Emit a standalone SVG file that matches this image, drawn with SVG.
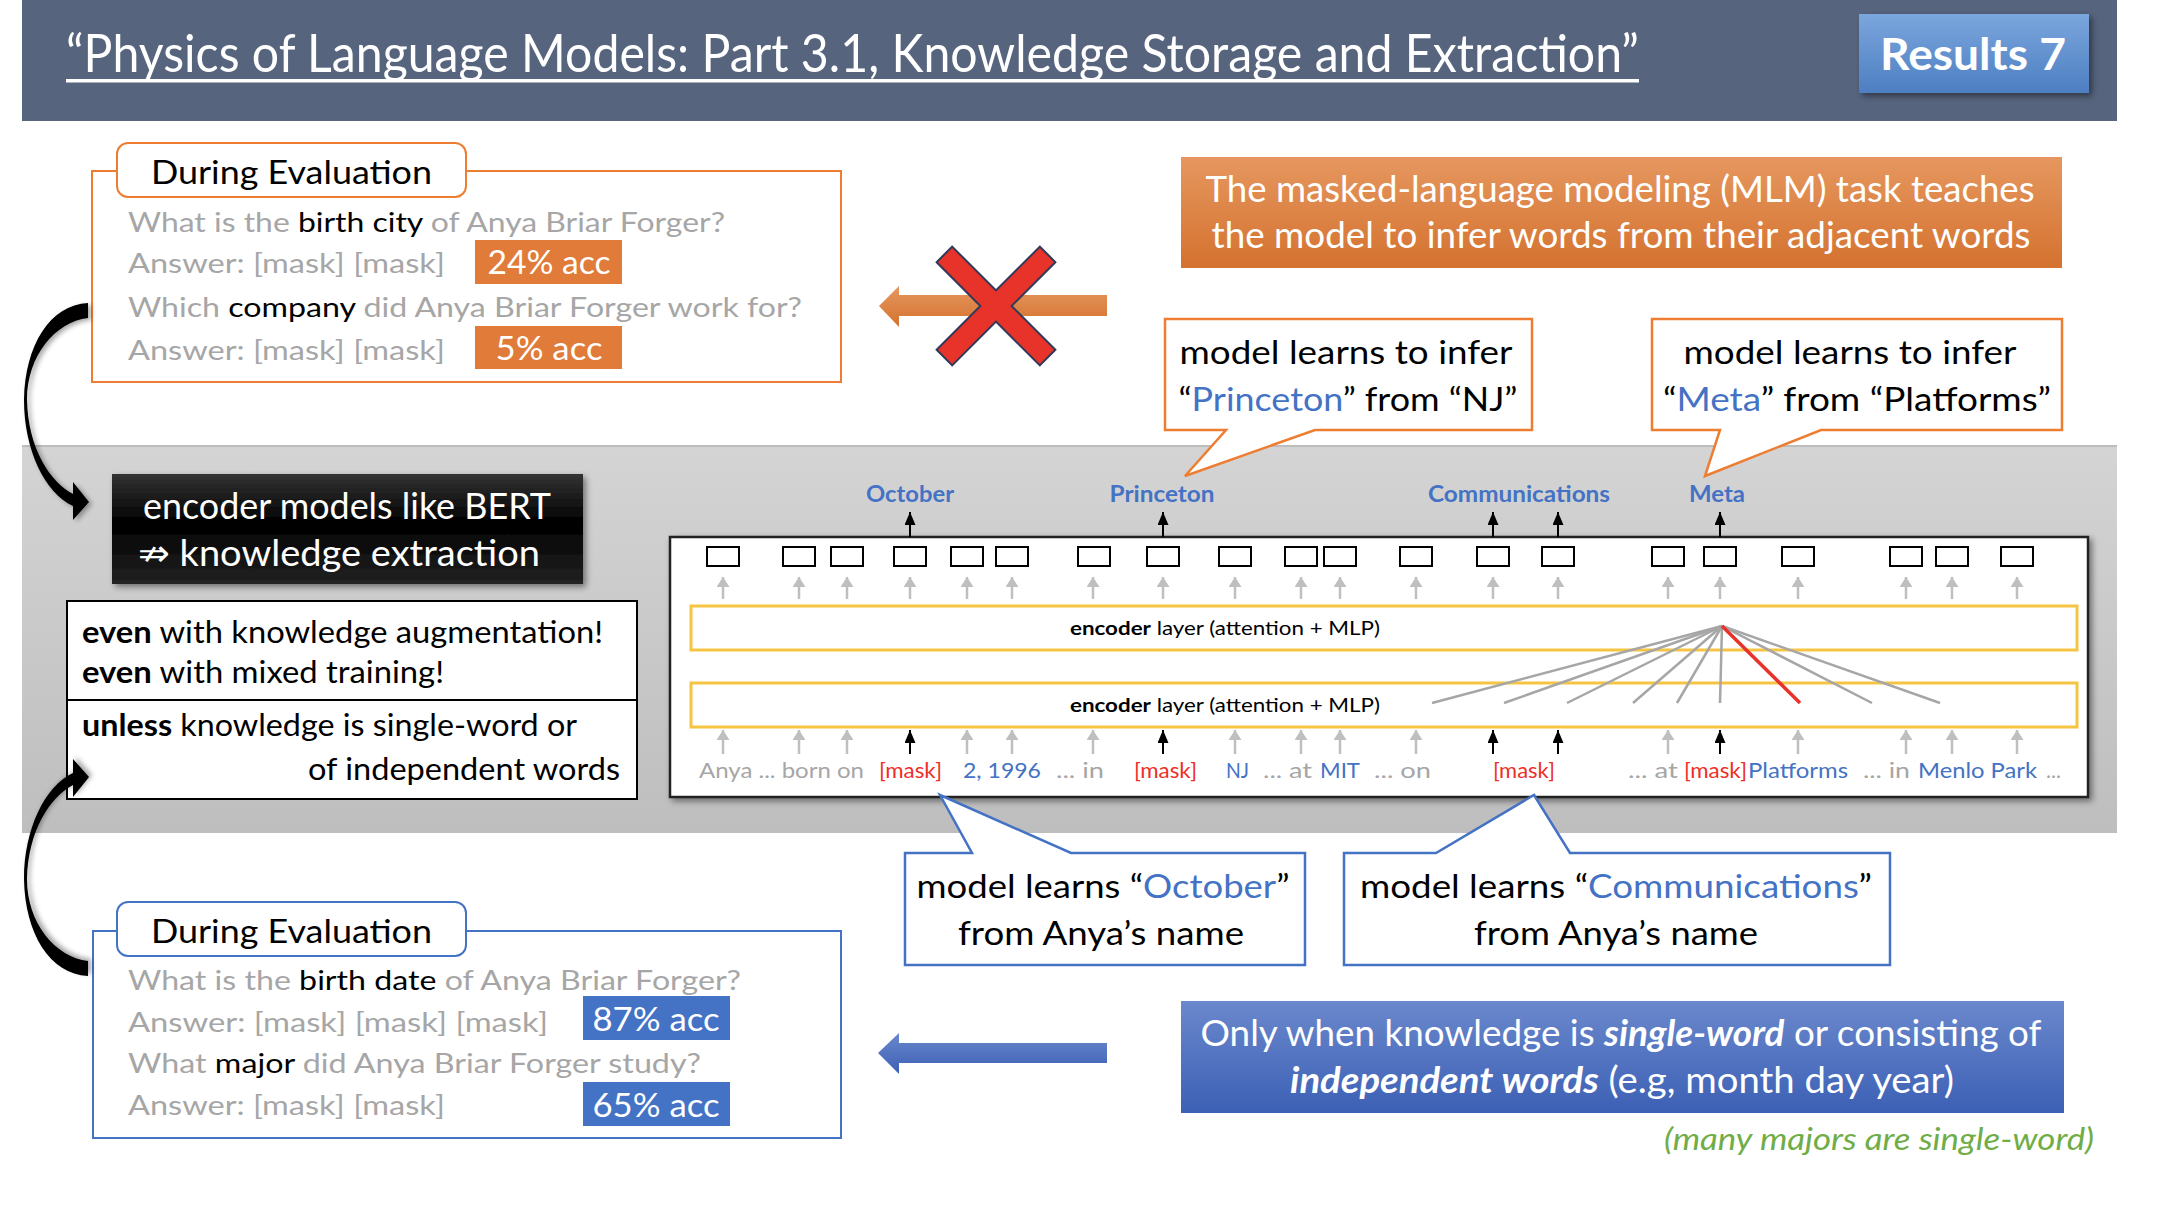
<svg xmlns="http://www.w3.org/2000/svg" width="2160" height="1222" viewBox="0 0 2160 1222">
<defs>
<style>
text{font-family:Lato,"Liberation Sans","DejaVu Sans",sans-serif}
.g{fill:#a6a6a6}
.k{fill:#000}
.b{fill:#4472c4}
.r{fill:#ee2f27}
.w{fill:#fff}
.q{font-size:27px}
.acc{font-size:33px;fill:#fff}
.call{font-size:33px;fill:#000}
.big{font-size:37px;fill:#fff}
.tok{font-size:21px}
.enc{font-size:19px;fill:#000}
.lab{font-size:22px;font-weight:bold;fill:#4472c4}
.box{fill:#fff;stroke:#222;stroke-width:2.5}
.tb{fill:#fff;stroke:#000;stroke-width:2}
.layer{fill:#fff;stroke:#f6c443;stroke-width:3}
.ga{stroke:#bfbfbf;stroke-width:2.5;marker-end:url(#mg)}
.ka{stroke:#000;stroke-width:2;marker-end:url(#mk)}
.att{stroke:#a6a6a6;stroke-width:2.5}
</style>
<marker id="mg" markerUnits="userSpaceOnUse" viewBox="0 0 10 13" refX="10" refY="6.5" markerWidth="10" markerHeight="13" orient="auto"><path d="M0,0 L10,6.5 L0,13 Z" fill="#bfbfbf"/></marker>
<marker id="mk" markerUnits="userSpaceOnUse" viewBox="0 0 13 11" refX="13" refY="5.5" markerWidth="13" markerHeight="11" orient="auto"><path d="M0,0 L13,5.5 L0,11 Z" fill="#000"/></marker>
<linearGradient id="gRes" x1="0" y1="0" x2="0" y2="1"><stop offset="0" stop-color="#7ba6dd"/><stop offset="1" stop-color="#4d7fc2"/></linearGradient>
<linearGradient id="gBand" x1="0" y1="0" x2="0" y2="1"><stop offset="0" stop-color="#d4d4d4"/><stop offset="1" stop-color="#bebebe"/></linearGradient>
<linearGradient id="gOr" x1="0" y1="0" x2="0" y2="1"><stop offset="0" stop-color="#e6975f"/><stop offset="1" stop-color="#d4722f"/></linearGradient>
<linearGradient id="gBl" x1="0" y1="0" x2="0" y2="1"><stop offset="0" stop-color="#6a88cc"/><stop offset="1" stop-color="#3c60b5"/></linearGradient>
<linearGradient id="gBlk" x1="0" y1="0" x2="0" y2="1"><stop offset="0" stop-color="#333"/><stop offset="0.45" stop-color="#000"/><stop offset="1" stop-color="#222"/></linearGradient>
<filter id="sh" x="-10%" y="-10%" width="130%" height="140%"><feDropShadow dx="3" dy="3" stdDeviation="3" flood-color="#000" flood-opacity="0.45"/></filter>
<filter id="shs" x="-30%" y="-10%" width="160%" height="120%"><feDropShadow dx="3" dy="2" stdDeviation="2.5" flood-color="#000" flood-opacity="0.35"/></filter>
</defs>

<rect width="2160" height="1222" fill="#fff"/>

<!-- title bar -->
<g id="header">
<rect x="22" y="0" width="2095" height="121" fill="#56647e"/>
<text x="66" y="72" font-size="52" class="w" textLength="1573" lengthAdjust="spacingAndGlyphs">“Physics of Language Models: Part 3.1, Knowledge Storage and Extraction”</text>
<rect x="66" y="79" width="1573" height="3.5" fill="#fff"/>
</g>
<g id="results-badge">
<rect x="1859" y="14" width="230" height="79" fill="url(#gRes)" filter="url(#sh)"/>
<text x="1973" y="70" font-size="43" font-weight="bold" class="w" text-anchor="middle" textLength="186" lengthAdjust="spacingAndGlyphs">Results 7</text>
</g>

<!-- grey band behind the encoder part -->
<rect x="22" y="445" width="2095" height="388" fill="url(#gBand)"/>
<line x1="22" y1="446" x2="2117" y2="446" stroke="#bdbdbd" stroke-width="2"/>

<!-- upper evaluation box -->
<g id="eval-top">
<rect x="92" y="171" width="749" height="211" fill="#fff" stroke="#ed7d31" stroke-width="2"/>
<rect x="117" y="143" width="349" height="54" rx="11" fill="#fff" stroke="#ed7d31" stroke-width="2"/>
<text x="291.5" y="184" font-size="33" class="k" text-anchor="middle" textLength="281" lengthAdjust="spacingAndGlyphs">During Evaluation</text>
<text x="128" y="232" class="q g" textLength="597" lengthAdjust="spacingAndGlyphs">What is the <tspan class="k">birth city</tspan> of Anya Briar Forger?</text>
<text x="128" y="273" class="q g" textLength="317" lengthAdjust="spacingAndGlyphs">Answer: [mask] [mask]</text>
<text x="128" y="317" class="q g" textLength="674" lengthAdjust="spacingAndGlyphs">Which <tspan class="k">company</tspan> did Anya Briar Forger work for?</text>
<text x="128" y="360" class="q g" textLength="317" lengthAdjust="spacingAndGlyphs">Answer: [mask] [mask]</text>
<rect x="475" y="240" width="147" height="44" fill="#e07b39"/>
<text x="549" y="274" class="acc" text-anchor="middle" textLength="123" lengthAdjust="spacingAndGlyphs">24% acc</text>
<rect x="475" y="326" width="147" height="43" fill="#e07b39"/>
<text x="549" y="360" class="acc" text-anchor="middle" textLength="107" lengthAdjust="spacingAndGlyphs">5% acc</text>
</g>

<!-- MLM statement -->
<g id="mlm-note">
<rect x="1181" y="157" width="881" height="111" fill="url(#gOr)"/>
<text x="1620" y="202" class="big" text-anchor="middle" textLength="829" lengthAdjust="spacingAndGlyphs">The masked-language modeling (MLM) task teaches</text>
<text x="1621" y="248" class="big" text-anchor="middle" textLength="819" lengthAdjust="spacingAndGlyphs">the model to infer words from their adjacent words</text>
</g>

<!-- callouts above the encoder -->
<g id="callout-princeton">
<path d="M1165,319 H1532 V430 H1315 L1185,476 L1226,430 H1165 Z" fill="#fff" stroke="#ed7d31" stroke-width="2.5" stroke-linejoin="miter"/>
<text x="1346" y="364" class="call" text-anchor="middle" textLength="333" lengthAdjust="spacingAndGlyphs">model learns to infer</text>
<text x="1348" y="411" class="call" text-anchor="middle" textLength="339" lengthAdjust="spacingAndGlyphs">“<tspan class="b">Princeton</tspan>” from “NJ”</text>
</g>
<g id="callout-meta">
<path d="M1652,319 H2062 V430 H1821 L1705,476 L1720,430 H1652 Z" fill="#fff" stroke="#ed7d31" stroke-width="2.5"/>
<text x="1850" y="364" class="call" text-anchor="middle" textLength="333" lengthAdjust="spacingAndGlyphs">model learns to infer</text>
<text x="1857" y="411" class="call" text-anchor="middle" textLength="388" lengthAdjust="spacingAndGlyphs">“<tspan class="b">Meta</tspan>” from “Platforms”</text>
</g>

<!-- left-hand summary -->
<g id="bert-claim">
<rect x="112" y="474" width="471" height="110" fill="url(#gBlk)" filter="url(#sh)"/>
<text x="347" y="519" class="big" text-anchor="middle" textLength="408" lengthAdjust="spacingAndGlyphs">encoder models like BERT</text>
<text x="339" y="566" class="big" text-anchor="middle" textLength="402" lengthAdjust="spacingAndGlyphs">⇏ knowledge extraction</text>
</g>
<g id="caveats">
<rect x="67" y="601" width="570" height="198" fill="#fff" stroke="#000" stroke-width="2"/>
<line x1="67" y1="700" x2="637" y2="700" stroke="#000" stroke-width="2"/>
<text x="82" y="643" font-size="31" class="k" textLength="521" lengthAdjust="spacingAndGlyphs"><tspan font-weight="bold">even</tspan> with knowledge augmentation!</text>
<text x="82" y="683" font-size="31" class="k" textLength="362" lengthAdjust="spacingAndGlyphs"><tspan font-weight="bold">even</tspan> with mixed training!</text>
<text x="82" y="736" font-size="31" class="k" textLength="495" lengthAdjust="spacingAndGlyphs"><tspan font-weight="bold">unless</tspan> knowledge is single-word or</text>
<text x="620" y="780" font-size="31" class="k" text-anchor="end" textLength="312" lengthAdjust="spacingAndGlyphs">of independent words</text>
</g>

<!-- encoder stack -->
<g id="encoder">
<rect x="670" y="537" width="1418" height="260" class="box" filter="url(#sh)"/>
<rect x="691" y="606" width="1386" height="44" class="layer"/>
<rect x="691" y="683" width="1386" height="44" class="layer"/>
<text x="1225" y="635" class="enc" text-anchor="middle" textLength="310" lengthAdjust="spacingAndGlyphs"><tspan font-weight="bold">encoder</tspan> layer (attention + MLP)</text>
<text x="1225" y="712" class="enc" text-anchor="middle" textLength="310" lengthAdjust="spacingAndGlyphs"><tspan font-weight="bold">encoder</tspan> layer (attention + MLP)</text>
<g id="token-outputs">
<rect x="707" y="547" width="32" height="19" class="tb"/>
<rect x="783" y="547" width="32" height="19" class="tb"/>
<rect x="831" y="547" width="32" height="19" class="tb"/>
<rect x="894" y="547" width="32" height="19" class="tb"/>
<rect x="951" y="547" width="32" height="19" class="tb"/>
<rect x="996" y="547" width="32" height="19" class="tb"/>
<rect x="1078" y="547" width="32" height="19" class="tb"/>
<rect x="1147" y="547" width="32" height="19" class="tb"/>
<rect x="1219" y="547" width="32" height="19" class="tb"/>
<rect x="1285" y="547" width="32" height="19" class="tb"/>
<rect x="1324" y="547" width="32" height="19" class="tb"/>
<rect x="1400" y="547" width="32" height="19" class="tb"/>
<rect x="1477" y="547" width="32" height="19" class="tb"/>
<rect x="1542" y="547" width="32" height="19" class="tb"/>
<rect x="1652" y="547" width="32" height="19" class="tb"/>
<rect x="1704" y="547" width="32" height="19" class="tb"/>
<rect x="1782" y="547" width="32" height="19" class="tb"/>
<rect x="1890" y="547" width="32" height="19" class="tb"/>
<rect x="1936" y="547" width="32" height="19" class="tb"/>
<rect x="2001" y="547" width="32" height="19" class="tb"/>
</g>
<g id="predicted-words">
<text x="910" y="502" class="lab" text-anchor="middle" textLength="88" lengthAdjust="spacingAndGlyphs">October</text>
<text x="1162" y="502" class="lab" text-anchor="middle" textLength="105" lengthAdjust="spacingAndGlyphs">Princeton</text>
<text x="1519" y="502" class="lab" text-anchor="middle" textLength="182" lengthAdjust="spacingAndGlyphs">Communications</text>
<text x="1717" y="502" class="lab" text-anchor="middle" textLength="56" lengthAdjust="spacingAndGlyphs">Meta</text>
</g>
<g id="input-tokens" class="tok">
<text x="699" y="778" class="g" textLength="165" lengthAdjust="spacingAndGlyphs">Anya ... born on</text>
<text x="879" y="778" class="r" textLength="63" lengthAdjust="spacingAndGlyphs">[mask]</text>
<text x="963" y="778" class="b" textLength="78" lengthAdjust="spacingAndGlyphs">2, 1996</text>
<text x="1056" y="778" class="g" textLength="48" lengthAdjust="spacingAndGlyphs">... in</text>
<text x="1134" y="778" class="r" textLength="63" lengthAdjust="spacingAndGlyphs">[mask]</text>
<text x="1226" y="778" class="b" textLength="23" lengthAdjust="spacingAndGlyphs">NJ</text>
<text x="1263" y="778" class="g" textLength="49" lengthAdjust="spacingAndGlyphs">... at</text>
<text x="1320" y="778" class="b" textLength="40" lengthAdjust="spacingAndGlyphs">MIT</text>
<text x="1374" y="778" class="g" textLength="57" lengthAdjust="spacingAndGlyphs">... on</text>
<text x="1493" y="778" class="r" textLength="62" lengthAdjust="spacingAndGlyphs">[mask]</text>
<text x="1628" y="778" class="g" textLength="50" lengthAdjust="spacingAndGlyphs">... at</text>
<text x="1684" y="778" class="r" textLength="63" lengthAdjust="spacingAndGlyphs">[mask]</text>
<text x="1748" y="778" class="b" textLength="100" lengthAdjust="spacingAndGlyphs">Platforms</text>
<text x="1863" y="778" class="g" textLength="47" lengthAdjust="spacingAndGlyphs">... in</text>
<text x="1918" y="778" class="b" textLength="119" lengthAdjust="spacingAndGlyphs">Menlo Park</text>
<text x="2046" y="778" class="g" textLength="15" lengthAdjust="spacingAndGlyphs">...</text>
</g>
</g>

<!-- callouts below the encoder -->
<g id="callout-october">
<path d="M905,853 H972 L940,795 L1071,853 H1305 V965 H905 Z" fill="#fff" stroke="#4472c4" stroke-width="2.5"/>
<text x="1103" y="898" class="call" text-anchor="middle" textLength="373" lengthAdjust="spacingAndGlyphs">model learns “<tspan class="b">October</tspan>”</text>
<text x="1101" y="945" class="call" text-anchor="middle" textLength="286" lengthAdjust="spacingAndGlyphs">from Anya’s name</text>
</g>
<g id="callout-communications">
<path d="M1344,853 H1436 L1534,795 L1570,853 H1890 V965 H1344 Z" fill="#fff" stroke="#4472c4" stroke-width="2.5"/>
<text x="1616" y="898" class="call" text-anchor="middle" textLength="512" lengthAdjust="spacingAndGlyphs">model learns “<tspan class="b">Communications</tspan>”</text>
<text x="1616" y="945" class="call" text-anchor="middle" textLength="284" lengthAdjust="spacingAndGlyphs">from Anya’s name</text>
</g>

<!-- lower evaluation box -->
<g id="eval-bottom">
<rect x="93" y="931" width="748" height="207" fill="#fff" stroke="#4472c4" stroke-width="2"/>
<rect x="117" y="902" width="349" height="54" rx="11" fill="#fff" stroke="#4472c4" stroke-width="2"/>
<text x="291.5" y="943" font-size="33" class="k" text-anchor="middle" textLength="281" lengthAdjust="spacingAndGlyphs">During Evaluation</text>
<text x="128" y="990" class="q g" textLength="613" lengthAdjust="spacingAndGlyphs">What is the <tspan class="k">birth date</tspan> of Anya Briar Forger?</text>
<text x="128" y="1032" class="q g" textLength="420" lengthAdjust="spacingAndGlyphs">Answer: [mask] [mask] [mask]</text>
<text x="128" y="1073" class="q g" textLength="573" lengthAdjust="spacingAndGlyphs">What <tspan class="k">major</tspan> did Anya Briar Forger study?</text>
<text x="128" y="1115" class="q g" textLength="317" lengthAdjust="spacingAndGlyphs">Answer: [mask] [mask]</text>
<rect x="583" y="996" width="147" height="44" fill="#4472c4"/>
<text x="656" y="1031" class="acc" text-anchor="middle" textLength="127" lengthAdjust="spacingAndGlyphs">87% acc</text>
<rect x="583" y="1082" width="147" height="44" fill="#4472c4"/>
<text x="656" y="1117" class="acc" text-anchor="middle" textLength="127" lengthAdjust="spacingAndGlyphs">65% acc</text>
</g>

<!-- single-word statement -->
<g id="single-word-note">
<rect x="1181" y="1001" width="883" height="112" fill="url(#gBl)"/>
<text x="1621" y="1046" class="big" text-anchor="middle" textLength="841" lengthAdjust="spacingAndGlyphs">Only when knowledge is <tspan font-weight="bold" font-style="italic">single-word</tspan> or consisting of</text>
<text x="1622" y="1093" class="big" text-anchor="middle" textLength="664" lengthAdjust="spacingAndGlyphs"><tspan font-weight="bold" font-style="italic">independent words</tspan> (e.g, month day year)</text>
</g>
<text id="majors-note" x="2094" y="1150" font-size="30" font-style="italic" fill="#70ad47" text-anchor="end" textLength="430" lengthAdjust="spacingAndGlyphs">(many majors are single-word)</text>

<!-- connectors -->
<g id="connectors">
<!-- curved arrows on the left -->
<path d="M88,303 C50,305 25,345 24,400 C24,450 45,493 73,506 L73,520 L89,502 L73,482 L73,494 C50,482 28,448 27,400 C27,356 55,322 88,318 Z" fill="#000" filter="url(#shs)"/>
<path transform="matrix(1 0 0 -1 0 1279)" d="M88,303 C50,305 25,345 24,400 C24,450 45,493 73,506 L73,520 L89,502 L73,482 L73,494 C50,482 28,448 27,400 C27,356 55,322 88,318 Z" fill="#000" filter="url(#shs)"/>
<!-- crossed-out orange arrow -->
<path d="M1107,295 H899 V286 L879,306 L899,327 V316 H1107 Z" fill="url(#gOr)"/>
<g transform="translate(996,306)">
<rect x="-10" y="-72" width="20" height="144" transform="rotate(45)" fill="none" stroke="#2e3a59" stroke-width="4"/>
<rect x="-10" y="-72" width="20" height="144" transform="rotate(-45)" fill="none" stroke="#2e3a59" stroke-width="4"/>
<rect x="-10" y="-72" width="20" height="144" transform="rotate(45)" fill="#e8332a"/>
<rect x="-10" y="-72" width="20" height="144" transform="rotate(-45)" fill="#e8332a"/>
</g>
<!-- blue arrow -->
<path d="M1107,1043 H899 V1033 L878,1053 L899,1074 V1063 H1107 Z" fill="url(#gBl)"/>
<!-- arrows into the output slots -->
<g id="upper-arrows">
<line x1="723" y1="599" x2="723" y2="577" class="ga"/>
<line x1="799" y1="599" x2="799" y2="577" class="ga"/>
<line x1="847" y1="599" x2="847" y2="577" class="ga"/>
<line x1="910" y1="599" x2="910" y2="577" class="ga"/>
<line x1="967" y1="599" x2="967" y2="577" class="ga"/>
<line x1="1012" y1="599" x2="1012" y2="577" class="ga"/>
<line x1="1093" y1="599" x2="1093" y2="577" class="ga"/>
<line x1="1163" y1="599" x2="1163" y2="577" class="ga"/>
<line x1="1235" y1="599" x2="1235" y2="577" class="ga"/>
<line x1="1301" y1="599" x2="1301" y2="577" class="ga"/>
<line x1="1340" y1="599" x2="1340" y2="577" class="ga"/>
<line x1="1416" y1="599" x2="1416" y2="577" class="ga"/>
<line x1="1493" y1="599" x2="1493" y2="577" class="ga"/>
<line x1="1558" y1="599" x2="1558" y2="577" class="ga"/>
<line x1="1668" y1="599" x2="1668" y2="577" class="ga"/>
<line x1="1720" y1="599" x2="1720" y2="577" class="ga"/>
<line x1="1798" y1="599" x2="1798" y2="577" class="ga"/>
<line x1="1906" y1="599" x2="1906" y2="577" class="ga"/>
<line x1="1952" y1="599" x2="1952" y2="577" class="ga"/>
<line x1="2017" y1="599" x2="2017" y2="577" class="ga"/>
</g>
<g id="lower-arrows">
<line x1="723" y1="754" x2="723" y2="730" class="ga"/>
<line x1="799" y1="754" x2="799" y2="730" class="ga"/>
<line x1="847" y1="754" x2="847" y2="730" class="ga"/>
<line x1="910" y1="754" x2="910" y2="730" class="ka"/>
<line x1="967" y1="754" x2="967" y2="730" class="ga"/>
<line x1="1012" y1="754" x2="1012" y2="730" class="ga"/>
<line x1="1093" y1="754" x2="1093" y2="730" class="ga"/>
<line x1="1163" y1="754" x2="1163" y2="730" class="ka"/>
<line x1="1235" y1="754" x2="1235" y2="730" class="ga"/>
<line x1="1301" y1="754" x2="1301" y2="730" class="ga"/>
<line x1="1340" y1="754" x2="1340" y2="730" class="ga"/>
<line x1="1416" y1="754" x2="1416" y2="730" class="ga"/>
<line x1="1493" y1="754" x2="1493" y2="730" class="ka"/>
<line x1="1558" y1="754" x2="1558" y2="730" class="ka"/>
<line x1="1668" y1="754" x2="1668" y2="730" class="ga"/>
<line x1="1720" y1="754" x2="1720" y2="730" class="ka"/>
<line x1="1798" y1="754" x2="1798" y2="730" class="ga"/>
<line x1="1906" y1="754" x2="1906" y2="730" class="ga"/>
<line x1="1952" y1="754" x2="1952" y2="730" class="ga"/>
<line x1="2017" y1="754" x2="2017" y2="730" class="ga"/>
</g>
<g id="output-arrows">
<line x1="910" y1="537" x2="910" y2="512" class="ka"/>
<line x1="1163" y1="537" x2="1163" y2="512" class="ka"/>
<line x1="1493" y1="537" x2="1493" y2="512" class="ka"/>
<line x1="1558" y1="537" x2="1558" y2="512" class="ka"/>
<line x1="1720" y1="537" x2="1720" y2="512" class="ka"/>
</g>
<!-- attention fan -->
<g id="attention">
<line x1="1722" y1="626" x2="1432" y2="703" class="att"/>
<line x1="1722" y1="626" x2="1504" y2="703" class="att"/>
<line x1="1722" y1="626" x2="1567" y2="703" class="att"/>
<line x1="1722" y1="626" x2="1633" y2="703" class="att"/>
<line x1="1722" y1="626" x2="1677" y2="703" class="att"/>
<line x1="1722" y1="626" x2="1720" y2="703" class="att"/>
<line x1="1722" y1="626" x2="1872" y2="703" class="att"/>
<line x1="1722" y1="626" x2="1940" y2="703" class="att"/>
<line x1="1722" y1="626" x2="1800" y2="703" stroke="#e8332a" stroke-width="3.5"/>
</g>
</g>
</svg>
